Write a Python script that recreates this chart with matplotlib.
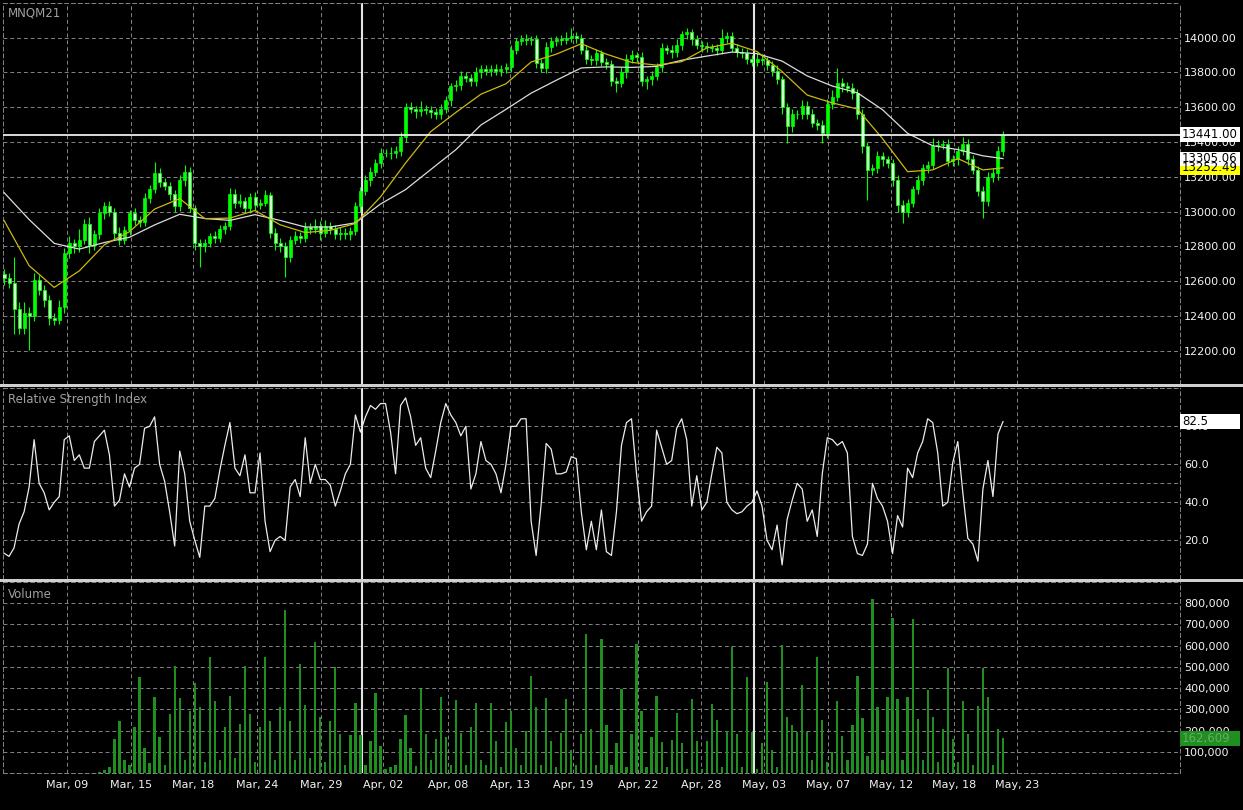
import numpy as np
import matplotlib
matplotlib.use("Agg")
import matplotlib.pyplot as plt
from matplotlib.patches import Rectangle
from matplotlib.transforms import blended_transform_factory

plt.rcParams['font.family'] = ['DejaVu Sans']

# ---- data (one entry per bar) ----
symbol = "MNQM21"
first_open = 12640
close = [12620, 12590, 12440, 12330, 12420, 12400, 12610, 12550, 12490, 12390,
         12380, 12450, 12760, 12820, 12800, 12840, 12930, 12810, 12870, 12990,
         13030, 13000, 12880, 12840, 12895, 12990, 12950, 12940, 13080, 13130,
         13220, 13170, 13150, 13100, 13030, 13180, 13230, 13020, 12820, 12800,
         12820, 12860, 12850, 12900, 12920, 13100, 13050, 13060, 13020, 13085,
         13040, 13050, 13095, 12880, 12820, 12800, 12740, 12840, 12860, 12850,
         12910, 12900, 12920, 12880, 12920, 12900, 12870, 12880, 12870, 12890,
         13030, 13120, 13180, 13230, 13280, 13340, 13340, 13335, 13350, 13430,
         13600, 13590, 13580, 13590, 13585, 13570, 13560, 13590, 13640, 13720,
         13730, 13780, 13770, 13750, 13800, 13820, 13810, 13820, 13810, 13820,
         13830, 13930, 13980, 13990, 13985, 13990, 13855, 13825, 13945, 13980,
         13990, 13985, 14000, 14010, 14000, 13930, 13880, 13870, 13910, 13860,
         13850, 13750, 13740, 13800, 13880, 13900, 13890, 13750, 13760, 13780,
         13830, 13940, 13930, 13915, 13960, 14020, 14030, 13990, 13960, 13950,
         13945, 13940, 13930, 14000, 14010, 13940, 13920, 13910, 13880, 13860,
         13880, 13870, 13840, 13810, 13760, 13600, 13490, 13560, 13560, 13610,
         13560, 13510, 13500, 13450, 13620, 13660, 13740, 13720, 13710, 13680,
         13560, 13380, 13240, 13250, 13320, 13300, 13280, 13180, 13040, 13000,
         13050, 13130, 13180, 13250, 13270, 13380, 13385, 13390, 13290, 13300,
         13350, 13390, 13300, 13240, 13120, 13060, 13200, 13225, 13350, 13441]
wick_up = [30, 25, 150, 40, 60, 30, 40, 25, 30, 30,
           30, 40, 30, 40, 25, 60, 30, 40, 25, 30,
           25, 30, 20, 30, 25, 20, 30, 25, 30, 25,
           65, 30, 25, 20, 25, 30, 40, 25, 20, 25,
           25, 20, 30, 25, 20, 35, 30, 40, 25, 20,
           30, 25, 30, 20, 25, 30, 25, 20, 30, 25,
           30, 25, 40, 25, 30, 20, 25, 30, 25, 20,
           25, 20, 30, 25, 20, 25, 20, 30, 25, 30,
           25, 30, 20, 45, 25, 20, 25, 30, 25, 20,
           25, 30, 25, 20, 30, 25, 20, 25, 30, 20,
           25, 30, 20, 25, 30, 20, 25, 20, 30, 25,
           20, 25, 30, 45, 25, 20, 25, 20, 25, 20,
           25, 20, 25, 30, 25, 30, 20, 25, 20, 30,
           25, 30, 20, 25, 30, 20, 25, 20, 25, 20,
           25, 20, 25, 50, 25, 20, 25, 20, 25, 20,
           30, 25, 20, 25, 30, 20, 25, 30, 25, 30,
           25, 30, 20, 25, 30, 40, 85, 30, 25, 30,
           25, 30, 20, 25, 30, 25, 20, 25, 30, 25,
           25, 20, 30, 25, 20, 45, 25, 20, 30, 25,
           25, 40, 30, 25, 20, 25, 30, 25, 30, 20]
wick_dn = [40, 30, 140, 35, 30, 195, 30, 30, 40, 40,
           30, 25, 30, 25, 40, 30, 25, 50, 30, 25,
           30, 25, 40, 30, 25, 30, 25, 30, 25, 30,
           25, 30, 25, 30, 30, 25, 30, 20, 40, 120,
           30, 25, 30, 25, 30, 25, 30, 25, 30, 25,
           30, 25, 20, 30, 40, 30, 115, 30, 25, 30,
           25, 30, 25, 40, 25, 30, 25, 30, 25, 30,
           25, 30, 25, 30, 25, 30, 25, 30, 25, 30,
           30, 25, 40, 30, 25, 30, 25, 30, 25, 30,
           25, 30, 25, 30, 25, 30, 25, 30, 25, 30,
           25, 30, 25, 20, 25, 30, 30, 25, 30, 25,
           30, 25, 20, 25, 30, 25, 30, 25, 30, 25,
           30, 25, 50, 25, 30, 25, 30, 25, 45, 30,
           25, 30, 25, 30, 25, 30, 25, 30, 25, 30,
           30, 25, 30, 25, 30, 25, 30, 25, 30, 25,
           25, 30, 25, 30, 25, 40, 95, 30, 25, 30,
           30, 25, 30, 55, 25, 30, 25, 30, 25, 30,
           30, 40, 170, 30, 25, 40, 30, 35, 40, 65,
           30, 25, 30, 25, 30, 25, 30, 25, 30, 25,
           30, 25, 30, 25, 30, 95, 25, 30, 45, 30]

# moving averages, one value every 5 bars plus the last bar
ma_fast = [12950, 12690, 12565, 12660, 12810, 12885, 13015, 13075, 12960, 12963,
           13007, 12925, 12880, 12893, 12932, 13085, 13280, 13460, 13570, 13675,
           13735, 13860, 13905, 13965, 13905, 13858, 13842, 13862, 13941, 13968,
           13920, 13805, 13670, 13625, 13590, 13420, 13230, 13240, 13305, 13240,
           13252]
ma_slow = [13110, 12955, 12818, 12785, 12823, 12853, 12924, 12985, 12961, 12950,
           12983, 12950, 12912, 12912, 12936, 13044, 13127, 13242, 13356, 13498,
           13588, 13681, 13755, 13826, 13832, 13829, 13835, 13870, 13894, 13917,
           13908, 13865, 13780, 13722, 13683, 13586, 13450, 13379, 13357, 13321,
           13305]

rsi = [13.2, 11.5, 16, 28.5, 35, 48, 73, 50, 45, 36,
       40, 43, 73, 75, 62, 65, 58, 58, 72, 75,
       78, 65, 38, 41, 55, 48, 58, 60, 79, 80,
       85, 60, 51, 35, 17, 67, 55, 30, 20, 11,
       38, 38, 42, 57, 70, 82, 58, 54, 65, 45,
       45, 66, 30, 14, 20, 22, 20, 48, 52, 43,
       74, 50, 60, 52, 52, 49, 38, 46, 55, 60,
       86, 77, 85, 91, 89, 92, 92, 77, 55, 91,
       95, 85, 70, 74, 58, 53, 67, 82, 92, 86,
       82, 75, 80, 47, 55, 72, 62, 60, 55, 45,
       60, 80, 80, 84, 84, 30, 12, 39, 71, 68,
       55, 55, 56, 64, 63, 35, 15, 30, 15, 36,
       14, 12, 35, 70, 82, 84, 55, 30, 35, 38,
       78, 69, 60, 62, 79, 84, 73, 38, 54, 36,
       40, 55, 69, 66, 40, 36, 34, 35, 38, 40,
       46, 38, 20, 15, 28, 7, 31, 41, 50, 47,
       30, 36, 22, 55, 74, 73, 70, 72, 66, 22,
       13, 12, 18, 50, 42, 38, 30, 13, 33, 27,
       58, 53, 66, 72, 84, 82, 66, 38, 40, 61,
       72, 45, 21, 18, 9, 47, 62, 43, 76, 82.5]

volume = [0, 0, 0, 0, 0, 0, 0, 0, 0, 0,
          0, 0, 0, 0, 0, 0, 0, 0, 0, 5000,
          15000, 30000, 161000, 243000, 60000, 40000, 216000, 451000, 120000, 45000,
          357000, 169000, 40000, 279000, 505000, 354000, 60000, 294000, 423000, 310000,
          50000, 545000, 338000, 60000, 216000, 365000, 70000, 232000, 505000, 279000,
          50000, 216000, 545000, 247000, 60000, 310000, 767000, 247000, 60000, 513000,
          322000, 70000, 615000, 263000, 50000, 243000, 501000, 185000, 40000, 177000,
          332000, 177000, 40000, 153000, 377000, 127000, 20000, 30000, 40000, 161000,
          271000, 120000, 35000, 396000, 185000, 60000, 161000, 357000, 170000, 40000,
          346000, 190000, 40000, 216000, 329000, 60000, 40000, 329000, 150000, 30000,
          240000, 294000, 120000, 40000, 200000, 459000, 310000, 40000, 354000, 150000,
          30000, 190000, 349000, 110000, 40000, 185000, 654000, 208000, 40000, 631000,
          228000, 40000, 140000, 396000, 30000, 185000, 607000, 294000, 30000, 169000,
          365000, 146000, 30000, 157000, 283000, 140000, 20000, 349000, 150000, 20000,
          150000, 326000, 250000, 30000, 200000, 592000, 185000, 30000, 454000, 192000,
          20000, 141000, 427000, 110000, 30000, 603000, 263000, 228000, 192000, 416000,
          192000, 60000, 548000, 250000, 50000, 100000, 341000, 172000, 60000, 224000,
          459000, 258000, 80000, 819000, 310000, 60000, 357000, 732000, 349000, 60000,
          357000, 725000, 255000, 60000, 391000, 266000, 50000, 208000, 495000, 161000,
          50000, 341000, 182000, 40000, 318000, 495000, 357000, 40000, 205000, 162609]

date_labels = ["Mar, 09", "Mar, 15", "Mar, 18", "Mar, 24", "Mar, 29", "Apr, 02",
               "Apr, 08", "Apr, 13", "Apr, 19", "Apr, 22", "Apr, 28", "May, 03",
               "May, 07", "May, 12", "May, 18", "May, 23"]
date_pos = [12.55, 25.30, 37.65, 50.40, 63.15, 75.50, 88.45, 100.80, 113.35,
            126.29, 138.84, 151.39, 164.14, 176.69, 189.24, 201.79]
month_breaks = [71.31, 149.40]

last_price = 13441.00
ma_slow_last = 13305.06
ma_fast_last = 13252.49
rsi_last = 82.5
vol_last = 162609

# ---- figure ----
W, H = 1243, 810
fig = plt.figure(figsize=(W / 100, H / 100), dpi=100, facecolor='black')


def px_axes(top, bottom, left=3, right=1180):
    return fig.add_axes([left / W, 1 - bottom / H, (right - left) / W, (bottom - top) / H])


ax1 = px_axes(3, 384)
ax2 = px_axes(388, 579)
ax3 = px_axes(582, 773)

GRID = '#858585'
DASH = (0, (4, 3))
for ax in (ax1, ax2, ax3):
    ax.set_facecolor('black')
    ax.set_xlim(-0.2, 234.26)
    for s in ax.spines.values():
        s.set_color(GRID)
        s.set_linestyle(DASH)
        s.set_linewidth(0.7)
    ax.yaxis.tick_right()
    ax.tick_params(axis='both', length=0, colors='#f2f2f2', labelsize=8, pad=3)
    ax.set_xticks(date_pos)
    ax.grid(True, color=GRID, linewidth=0.7, linestyle=DASH)
    ax.set_axisbelow(True)
    for xb in month_breaks:
        ax.axvline(xb, color='#e4e4e4', lw=1.5, zorder=1.8)
ax1.tick_params(labelbottom=False)
ax2.tick_params(labelbottom=False)

x = np.arange(len(close))

# price candles
c = np.array(close, float)
o = np.r_[first_open, c[:-1]]
top = np.maximum(o, c)
bot = np.minimum(o, c)
hi = top + np.array(wick_up)
lo = bot - np.array(wick_dn)
up = c >= o
ax1.vlines(x, lo, hi, color='#00ff00', lw=0.8, zorder=3)
ax1.bar(x[up], (top - bot)[up], bottom=bot[up], width=0.6, color='#00ff00',
        edgecolor='#00ff00', linewidth=0.5, zorder=4)
ax1.bar(x[~up], (top - bot)[~up], bottom=bot[~up], width=0.6, color='#c8ffc8',
        edgecolor='#00ff00', linewidth=0.6, zorder=4)

ma_x = np.r_[np.arange(0, len(close), 5), len(close) - 1]
ax1.plot(ma_x, ma_slow, color='#dcdcdc', lw=0.9, zorder=5)
ax1.plot(ma_x, ma_fast, color='#cdb90f', lw=0.9, zorder=5)
ax1.axhline(last_price, color='white', lw=1.2, zorder=6)

ax1.set_ylim(12010, 14199)
price_ticks = np.arange(12200, 14001, 200)
ax1.set_yticks(price_ticks)
ax1.set_yticklabels([f"{v:.2f}" for v in price_ticks])

# RSI
ax2.plot(x, rsi, color='#ececec', lw=0.9, zorder=4)
ax2.set_ylim(-0.4, 100.2)
ax2.set_yticks([20, 40, 60, 80])
ax2.set_yticklabels(["20.0", "40.0", "60.0", "80.0"])
ax2.axhline(50, color=GRID, lw=0.7, ls=DASH, zorder=0.5)

# volume
ax3.bar(x, volume, width=0.45, color='#1f8f1f', zorder=4)
ax3.set_ylim(0, 900000)
vol_ticks = np.arange(100000, 800001, 100000)
ax3.set_yticks(vol_ticks)
ax3.set_yticklabels([f"{v:,}" for v in vol_ticks])
ax3.set_xticklabels(date_labels)
ax3.tick_params(axis='x', pad=5, labelsize=8)


# value tags on the right scale
def tag(ax, yval, h, text, fc, tc='black'):
    tr = blended_transform_factory(ax.transAxes, ax.transData)
    ax.add_patch(Rectangle((1.0, yval - h / 2), 60 / 1177, h, transform=tr,
                           facecolor=fc, edgecolor='none', clip_on=False, zorder=10))
    ax.text(1.0 + 2 / 1177, yval, text, transform=tr, va='center', ha='left',
            color=tc, fontsize=8.5, zorder=11, clip_on=False)


tag(ax1, ma_fast_last, 80, f"{ma_fast_last:.2f}", '#ffff00')
tag(ax1, ma_slow_last, 80, f"{ma_slow_last:.2f}", 'white')
tag(ax1, last_price, 86, f"{last_price:.2f}", 'white')
tag(ax2, rsi_last, 7.9, f"{rsi_last:.1f}", 'white')
tag(ax3, vol_last, 75000, f"{vol_last:,}", '#1f8f1f', tc='#6aa86a')

# panel captions
fig.text(8 / W, 1 - 13 / H, symbol, color='#a0a0a0', fontsize=8.5, va='center')
fig.text(8 / W, 1 - 400 / H, "Relative Strength Index", color='#a0a0a0', fontsize=8.5, va='center')
fig.text(8 / W, 1 - 594 / H, "Volume", color='#a0a0a0', fontsize=8.5, va='center')

# separators between panels
for y0 in (384, 579):
    fig.add_artist(Rectangle((0, 1 - (y0 + 3) / H), 1, 3 / H, transform=fig.transFigure,
                             facecolor='#cfcfcf', edgecolor='none'))

fig.savefig('out.png', dpi=100, facecolor='black')
